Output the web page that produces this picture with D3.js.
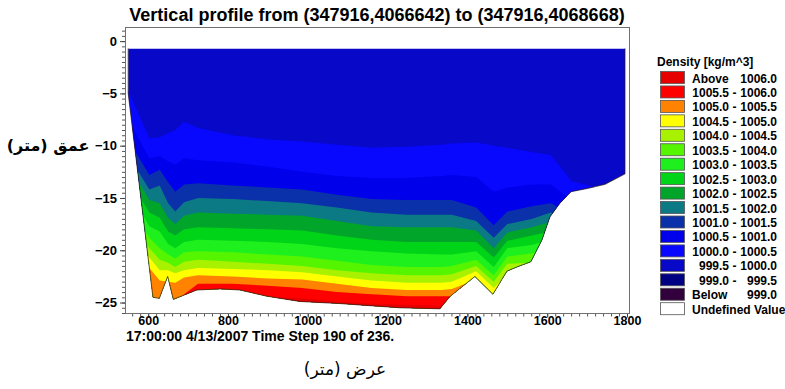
<!DOCTYPE html>
<html>
<head>
<meta charset="utf-8">
<script src="https://cdn.jsdelivr.net/npm/d3@7"></script>
<style>
  html, body { margin: 0; padding: 0; background: #fff; }
  svg { display: block; font-family: "Liberation Sans", Arial, sans-serif; }
</style>
</head>
<body>
<svg id="chart" width="785" height="389"></svg>
<script>
// ---- Bathymetry along the transect: distance (m) and bottom depth (m) ----
const bottomDistance = [550, 612, 628, 649, 663, 722, 780, 830, 898, 981, 1081, 1156, 1231, 1331, 1357, 1419, 1464, 1499, 1524, 1559, 1587, 1607, 1632, 1660, 1700, 1745, 1795];
const bottomDepth    = [-5.0, -24.5, -24.6, -22.5, -24.7, -23.8, -23.7, -23.8, -24.4, -24.9, -25.1, -25.3, -25.5, -25.6, -24.4, -22.5, -24.2, -22.0, -21.6, -21.1, -19.0, -16.8, -15.5, -14.4, -14.1, -13.7, -12.7];
const surfaceDepth = -0.7;

// ---- Stations where the density surfaces are sampled (m along transect) ----
const stationDistance = [550, 603, 629, 650, 668, 690, 725, 812, 899, 986, 1073, 1160, 1248, 1335, 1361, 1422, 1466, 1500, 1561, 1609, 1661, 1744, 1800];

// Depth (m) of each isopycnal at the stations
const iso1000_0 = [-4.7, -9.3, -9.2, -8.8, -8.5, -7.7, -8.3, -9.0, -9.4, -9.6, -9.9, -10.2, -10.1, -9.9, -9.8, -9.7, -10.0, -10.2, -10.6, -10.9, -13.4, -14.2, -13.5];
const iso1000_5 = [-7.5, -11.2, -11.0, -11.5, -11.8, -11.2, -11.4, -11.6, -12.0, -12.5, -12.9, -13.1, -13.1, -12.9, -12.8, -13.0, -14.4, -14.0, -13.7, -13.7, -15.2, -15.2, -15.2];
const iso1001_0 = [-9.4, -12.8, -12.3, -13.5, -14.4, -13.7, -13.6, -13.8, -14.0, -14.2, -14.7, -15.1, -15.2, -15.2, -15.2, -15.9, -17.6, -16.3, -15.8, -15.5, -16.6, -16.6, -16.6];
const iso1001_5 = [-10.9, -14.2, -13.8, -15.5, -16.3, -15.4, -15.0, -15.1, -15.3, -15.5, -15.9, -16.4, -16.6, -16.6, -16.6, -17.2, -18.8, -17.5, -17.0, -16.4, -17.3, -17.3, -17.3];
const iso1002_0 = [-11.8, -15.2, -15.5, -16.9, -17.5, -16.7, -16.4, -16.5, -16.6, -16.7, -17.2, -17.7, -17.8, -17.8, -17.8, -18.1, -19.8, -18.3, -17.8, -17.3, -18.0, -18.0, -18.0];
const iso1002_5 = [-13.1, -16.4, -16.9, -18.2, -18.6, -18.0, -17.8, -17.9, -18.0, -18.1, -18.6, -19.0, -19.2, -19.2, -19.2, -19.2, -20.7, -19.1, -18.6, -18.2, -18.8, -18.8, -18.8];
const iso1003_0 = [-14.2, -17.7, -18.2, -19.4, -19.8, -19.2, -19.0, -19.1, -19.2, -19.4, -19.8, -20.1, -20.3, -20.4, -20.4, -20.1, -21.6, -19.8, -19.5, -19.0, -19.6, -19.6, -19.6];
const iso1003_5 = [-15.6, -18.8, -19.8, -20.4, -20.8, -20.2, -20.1, -20.2, -20.4, -20.6, -21.0, -21.4, -21.6, -21.6, -21.5, -20.9, -22.4, -20.6, -20.3, -19.8, -20.3, -20.3, -20.3];
const iso1004_0 = [-16.9, -19.8, -20.9, -21.2, -21.6, -21.1, -20.9, -21.1, -21.3, -21.5, -21.9, -22.2, -22.4, -22.4, -22.3, -21.5, -23.0, -21.3, -21.2, -20.7, -21.1, -21.1, -21.1];
const iso1004_5 = [-18.0, -20.7, -21.9, -21.9, -22.2, -21.9, -21.7, -21.8, -21.9, -22.1, -22.5, -22.9, -23.1, -23.1, -23.0, -22.0, -23.6, -22.3, -21.9, -21.5, -21.9, -21.9, -21.9];
const iso1005_0 = [-19.5, -21.7, -22.9, -23.0, -23.1, -22.6, -22.4, -22.5, -22.7, -22.8, -23.2, -23.6, -23.8, -23.8, -23.7, -22.8, -24.5, -23.3, -22.8, -22.4, -22.8, -22.8, -22.8];
const iso1005_5 = [-22.8, -24.7, -25.2, -24.7, -25.7, -24.2, -23.2, -23.2, -23.4, -23.6, -24.0, -24.2, -24.4, -24.4, -24.4, -24.0, -25.3, -24.2, -23.8, -23.4, -23.8, -23.8, -23.8];
const iso1006_0 = [-24.7, -25.7, -26.1, -25.9, -26.1, -25.5, -24.3, -24.3, -24.5, -24.6, -24.9, -25.1, -25.2, -25.3, -25.3, -24.9, -26.0, -25.2, -24.7, -24.3, -24.7, -24.7, -24.7];

const isoLevels = [1000.0, 1000.5, 1001.0, 1001.5, 1002.0, 1002.5, 1003.0, 1003.5, 1004.0, 1004.5, 1005.0, 1005.5, 1006.0];
const isoDepths = [iso1000_0, iso1000_5, iso1001_0, iso1001_5, iso1002_0, iso1002_5, iso1003_0, iso1003_5, iso1004_0, iso1004_5, iso1005_0, iso1005_5, iso1006_0];

// ---- Colour classes (top of legend to bottom) ----
const densityBreaks = [1006.0, 1005.5, 1005.0, 1004.5, 1004.0, 1003.5, 1003.0, 1002.5, 1002.0, 1001.5, 1001.0, 1000.5, 1000.0, 999.5, 999.0];
const classColors = [
  "#e60000", // Above 1006.0
  "#ff0000", // 1005.5 - 1006.0
  "#ff8200", // 1005.0 - 1005.5
  "#ffff00", // 1004.5 - 1005.0
  "#a8f200", // 1004.0 - 1004.5
  "#55f500", // 1003.5 - 1004.0
  "#1ef01e", // 1003.0 - 1003.5
  "#00d418", // 1002.5 - 1003.0
  "#00a52a", // 1002.0 - 1002.5
  "#0c7a84", // 1001.5 - 1002.0
  "#0a30aa", // 1001.0 - 1001.5
  "#0000ea", // 1000.5 - 1001.0
  "#0808ff", // 1000.0 - 1000.5
  "#0808c8", // 999.5 - 1000.0
  "#000082", // 999.0 - 999.5
  "#32003c", // Below 999.0
  "#ffffff"  // Undefined Value
];

// ---- Axis ticks and texts ----
const xTickValues = [600, 800, 1000, 1200, 1400, 1600, 1800];
const yTickValues = [0, -5, -10, -15, -20, -25];
const titleText = "Vertical profile from (347916,4066642) to (347916,4068668)";
const timeText = "17:00:00 4/13/2007  Time Step 190 of 236.";
const xLabelText = "عرض (متر)";
const yLabelText = "عمق (متر)";
const legendTitle = "Density [kg/m^3]";

// ---------------------------------------------------------------------------
const svg = d3.select("#chart");
const plot = { left: 125, top: 27, right: 629, bottom: 313 };

const x = d3.scaleLinear().domain([542, 1805]).range([plot.left, plot.right]);
const y = d3.scaleLinear().domain([1.35, -26]).range([plot.top, plot.bottom]);

svg.append("rect").attr("width", 785).attr("height", 389).attr("fill", "#fff");

// colour of the class whose lower bound is `lvl`
const fmt = d3.format(".1f");
function classColor(lvl) {
  const i = densityBreaks.findIndex(b => Math.abs(b - lvl) < 1e-6);
  return classColors[i];
}

// Water cross-section polygon (surface + bottom)
const waterPts = [[bottomDistance[0], surfaceDepth]]
  .concat(bottomDistance.map((d, i) => [d, bottomDepth[i]]))
  .concat([[bottomDistance[bottomDistance.length - 1], surfaceDepth]]);
const line = d3.line().x(d => x(d[0])).y(d => y(d[1]));

svg.append("defs").append("clipPath").attr("id", "water")
  .append("path").attr("d", line(waterPts) + "Z");

const g = svg.append("g").attr("clip-path", "url(#water)");

// lightest water class fills the whole section
g.append("path")
  .attr("d", line(waterPts) + "Z")
  .attr("fill", classColor(999.5));

// each isopycnal covers everything beneath it with the next denser class
const area = d3.area()
  .x((d, i) => x(stationDistance[i]))
  .y0(d => y(d))
  .y1(y(-27));

isoLevels.forEach((lvl, k) => {
  g.append("path")
    .datum(isoDepths[k])
    .attr("d", area)
    .attr("fill", classColor(lvl));
});

// bottom outline
svg.append("path")
  .attr("d", line(waterPts))
  .attr("fill", "none")
  .attr("stroke", "#2a1a1a")
  .attr("stroke-opacity", 0.8)
  .attr("stroke-width", 0.9);

// Frame
svg.append("rect")
  .attr("x", plot.left + 0.5).attr("y", plot.top + 0.5)
  .attr("width", plot.right - plot.left).attr("height", plot.bottom - plot.top)
  .attr("fill", "none").attr("stroke", "#707070").attr("stroke-width", 1);

// Axes
const axisFont = (sel, size) => sel.selectAll("text")
  .attr("font-family", "'Liberation Sans', Arial, sans-serif")
  .attr("font-weight", "bold").attr("font-size", size).attr("fill", "#000");

const yMinor = svg.append("g").attr("transform", `translate(${plot.left},0)`)
  .call(d3.axisLeft(y).tickValues(d3.range(-26, 1.4, 0.5)).tickSize(3).tickFormat(""));
yMinor.select(".domain").remove();
yMinor.selectAll("line").attr("stroke", "#555");

const yMajor = svg.append("g").attr("transform", `translate(${plot.left},0)`)
  .call(d3.axisLeft(y).tickValues(yTickValues).tickSize(5).tickPadding(3).tickFormat(d3.format("d")));
yMajor.select(".domain").remove();
yMajor.selectAll("line").attr("stroke", "#444");
axisFont(yMajor, 13);

const xMinor = svg.append("g").attr("transform", `translate(0,${plot.bottom + 1})`)
  .call(d3.axisBottom(x).tickValues(d3.range(560, 1805, 20)).tickSize(2.5).tickFormat(""));
xMinor.select(".domain").remove();
xMinor.selectAll("line").attr("stroke", "#555");

const xMajor = svg.append("g").attr("transform", `translate(0,${plot.bottom + 1})`)
  .call(d3.axisBottom(x).tickValues(xTickValues).tickSize(3.5).tickFormat(d3.format("d")));
xMajor.select(".domain").remove();
xMajor.selectAll("line").attr("stroke", "#444");
axisFont(xMajor, 12.5);
xMajor.selectAll("text").attr("y", 2.5);

// Title
svg.append("text")
  .attr("x", (plot.left + plot.right) / 2).attr("y", 21)
  .attr("text-anchor", "middle")
  .attr("font-weight", "bold").attr("font-size", 18)
  .text(titleText);

// Time stamp
svg.append("text")
  .attr("x", 126).attr("y", 341)
  .attr("font-weight", "bold").attr("font-size", 14)
  .text(timeText);

// Arabic axis titles
svg.append("text")
  .attr("x", 345).attr("y", 375)
  .attr("text-anchor", "middle").attr("direction", "rtl")
  .attr("font-family", "'DejaVu Sans', sans-serif")
  .attr("font-size", 17)
  .text(xLabelText);

svg.append("text")
  .attr("x", 48).attr("y", 151)
  .attr("text-anchor", "middle").attr("direction", "rtl")
  .attr("font-family", "'DejaVu Sans', sans-serif")
  .attr("font-weight", "bold")
  .attr("font-size", 16)
  .text(yLabelText);

// Legend
const leg = svg.append("g");
leg.append("text")
  .attr("x", 657).attr("y", 66)
  .attr("font-weight", "bold").attr("font-size", 12)
  .text(legendTitle);

const rowH = 14.45, row0 = 78;
const legendRows = [{ kind: "above", v: densityBreaks[0] }];
for (let i = 1; i < densityBreaks.length; i++) {
  legendRows.push({ kind: "range", lo: densityBreaks[i], hi: densityBreaks[i - 1] });
}
legendRows.push({ kind: "below", v: densityBreaks[densityBreaks.length - 1] });
legendRows.push({ kind: "undef" });

legendRows.forEach((r, i) => {
  const cy = row0 + i * rowH;
  leg.append("rect")
    .attr("x", 660.5).attr("y", cy - 6.5)
    .attr("width", 24).attr("height", 12)
    .attr("fill", classColors[i])
    .attr("stroke", "#555").attr("stroke-width", 0.8);
  const t = (txt, xx, anchor) => leg.append("text")
    .attr("x", xx).attr("y", cy + 4.5)
    .attr("text-anchor", anchor)
    .attr("font-weight", "bold").attr("font-size", 12)
    .text(txt);
  if (r.kind === "above") { t("Above", 692, "start"); t(fmt(r.v), 777, "end"); }
  else if (r.kind === "below") { t("Below", 692, "start"); t(fmt(r.v), 777, "end"); }
  else if (r.kind === "undef") { t("Undefined Value", 692, "start"); }
  else { t(fmt(r.lo), 729, "end"); t("-", 734.5, "middle"); t(fmt(r.hi), 777, "end"); }
});
</script>
</body>
</html>
